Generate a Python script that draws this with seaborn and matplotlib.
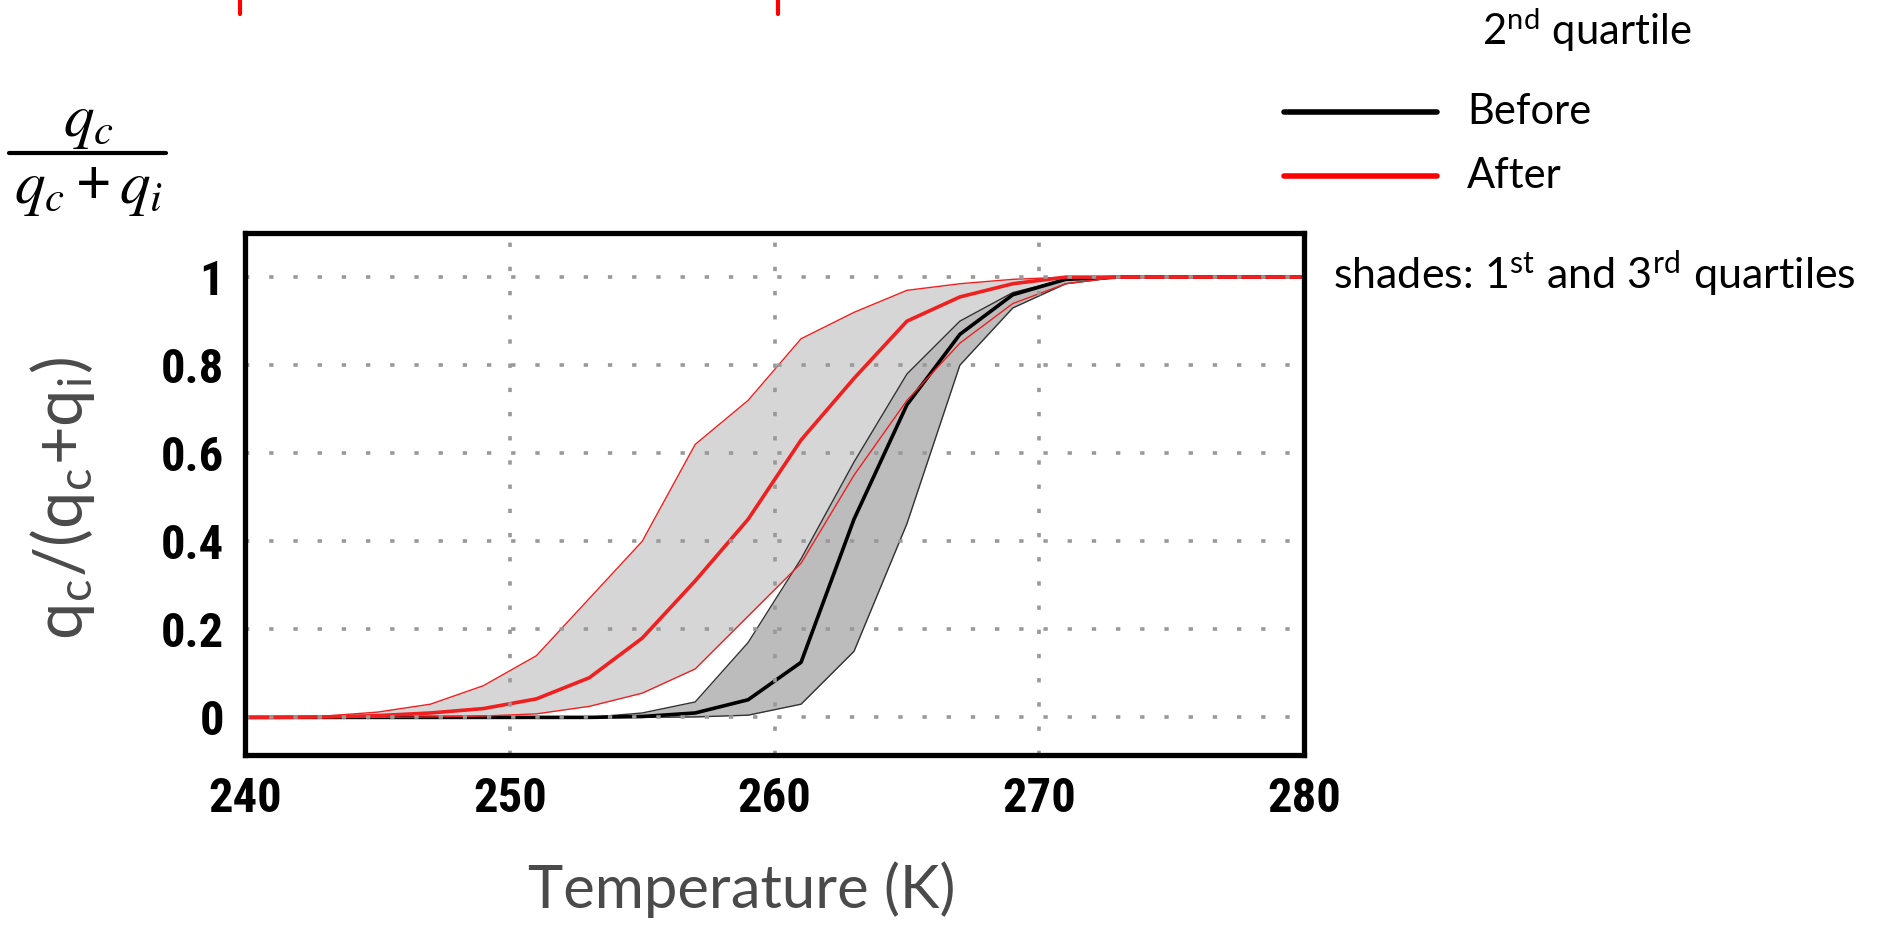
import matplotlib
matplotlib.use("Agg")
import matplotlib.pyplot as plt
import seaborn as sns
import pandas as pd
from matplotlib.lines import Line2D

# Temperatures (K) and quartiles of qc/(qc+qi)
temps = [240, 241, 243, 245, 247, 249, 251, 253, 255, 257, 259,
         261, 263, 265, 267, 269, 271, 273, 275, 277, 279, 280]

after_q1 = [0, 0, 0, 0, 0.001, 0.003, 0.008, 0.025, 0.055, 0.11, 0.23,
            0.35, 0.55, 0.72, 0.85, 0.94, 0.985, 1, 1, 1, 1, 1]
after_q2 = [0, 0, 0.001, 0.004, 0.01, 0.02, 0.042, 0.09, 0.18, 0.31, 0.45,
            0.63, 0.77, 0.90, 0.955, 0.985, 1, 1, 1, 1, 1, 1]
after_q3 = [0, 0, 0.003, 0.012, 0.03, 0.072, 0.14, 0.27, 0.40, 0.62, 0.72,
            0.86, 0.92, 0.97, 0.985, 0.995, 1, 1, 1, 1, 1, 1]

before_q1 = [0, 0, 0, 0, 0, 0, 0, 0, 0, 0.001, 0.005,
             0.03, 0.15, 0.44, 0.80, 0.93, 0.985, 1, 1, 1, 1, 1]
before_q2 = [0, 0, 0, 0, 0, 0, 0, 0, 0.002, 0.01, 0.04,
             0.125, 0.45, 0.71, 0.87, 0.96, 0.995, 1, 1, 1, 1, 1]
before_q3 = [0, 0, 0, 0, 0, 0, 0, 0, 0.01, 0.035, 0.17,
             0.36, 0.58, 0.78, 0.90, 0.965, 0.995, 1, 1, 1, 1, 1]

xticks = [240, 250, 260, 270, 280]
yticks = [0, 0.2, 0.4, 0.6, 0.8, 1]
ytick_labels = ["0", "0.2", "0.4", "0.6", "0.8", "1"]

df = pd.DataFrame({"T": temps,
                   "a1": after_q1, "a2": after_q2, "a3": after_q3,
                   "b1": before_q1, "b2": before_q2, "b3": before_q3})

sns.set_style("white")
plt.rcParams["font.family"] = ["Lato", "DejaVu Sans"]
plt.rcParams["mathtext.fontset"] = "custom"
plt.rcParams["mathtext.rm"] = "Lato"
plt.rcParams["mathtext.it"] = "STIXGeneral:italic"

fig = plt.figure(figsize=(18.86, 9.25), dpi=100)
ax = fig.add_axes([0.130, 0.184, 0.5614, 0.564])

red = "#f02020"

# shaded quartile bands
ax.fill_between(df["T"], df["a1"], df["a3"], color="#d6d6d6", lw=0, zorder=1)
ax.fill_between(df["T"], df["b1"], df["b3"], color="#bcbcbc", lw=0, zorder=2)

sns.lineplot(data=df, x="T", y="b1", color="#333333", lw=1.0, ax=ax, zorder=3)
sns.lineplot(data=df, x="T", y="b3", color="#333333", lw=1.0, ax=ax, zorder=3)
sns.lineplot(data=df, x="T", y="b2", color="black", lw=2.6, ax=ax, zorder=4)
sns.lineplot(data=df, x="T", y="a1", color=red, lw=1.0, ax=ax, zorder=5)
sns.lineplot(data=df, x="T", y="a3", color=red, lw=1.0, ax=ax, zorder=5)
sns.lineplot(data=df, x="T", y="a2", color=red, lw=2.6, ax=ax, zorder=6)

# dotted grid drawn over the curves
grid_kw = dict(color="#999999", lw=2.6, ls=(0, (1.2, 5.5)), zorder=7)
for y in yticks:
    ax.axhline(y, **grid_kw)
for x in [250, 260, 270]:
    ax.axvline(x, **grid_kw)

ax.set_xlim(240, 280)
ax.set_ylim(-0.085, 1.1)
ax.set_xticks(xticks)
ax.set_xticklabels([str(t) for t in xticks])
ax.set_yticks(yticks)
ax.set_yticklabels(ytick_labels)
for lab in ax.get_xticklabels() + ax.get_yticklabels():
    lab.set_family(["Roboto Condensed", "Liberation Sans", "DejaVu Sans"])
    lab.set_fontweight("bold")
    lab.set_fontsize(35)
ax.tick_params(axis="both", direction="out", length=9, width=3.5,
               color="black", labelcolor="black", pad=6)
for s in ax.spines.values():
    s.set_linewidth(3.8)
    s.set_color("black")
    s.set_zorder(10)

ax.set_xlabel("")
ax.set_ylabel("")
fig.text(0.3935, 0.038, "Temperature (K)", ha="center", va="center",
         fontsize=43, color="#4a4a4a")
fig.text(0.033, 0.4616, r"q$_\mathrm{c}$/(q$_\mathrm{c}$+q$_\mathrm{i}$)",
         rotation=90, ha="center", va="center", fontsize=48,
         color="#4a4a4a")

# fraction at top left
fig.text(0.047, 0.868, r"$q_c$", ha="center", va="center", fontsize=44,
         color="black")
fig.add_artist(Line2D([0.005, 0.088], [0.835, 0.835], color="black", lw=3))
fig.text(0.047, 0.795, r"$q_c + q_i$", ha="center", va="center",
         fontsize=44, color="black")

# red marks at top
for xm in [0.1275, 0.4125]:
    fig.add_artist(Line2D([xm, xm], [1.0, 0.985], color="red", lw=3))

# legend / notes
fig.text(0.786, 0.967, r"2$^{\mathrm{nd}}$ quartile", ha="left",
         va="center", fontsize=30, color="black")
fig.add_artist(Line2D([0.681, 0.762], [0.879, 0.879], color="black", lw=4))
fig.text(0.778, 0.879, "Before", ha="left", va="center", fontsize=30,
         color="black")
fig.add_artist(Line2D([0.681, 0.762], [0.810, 0.810], color="red", lw=4))
fig.text(0.778, 0.810, "After", ha="left", va="center", fontsize=30,
         color="black")
fig.text(0.707, 0.704, r"shades: 1$^{\mathrm{st}}$ and 3$^{\mathrm{rd}}$ quartiles",
         ha="left", va="center", fontsize=31, color="black")

fig.savefig("out.png", dpi=100)
